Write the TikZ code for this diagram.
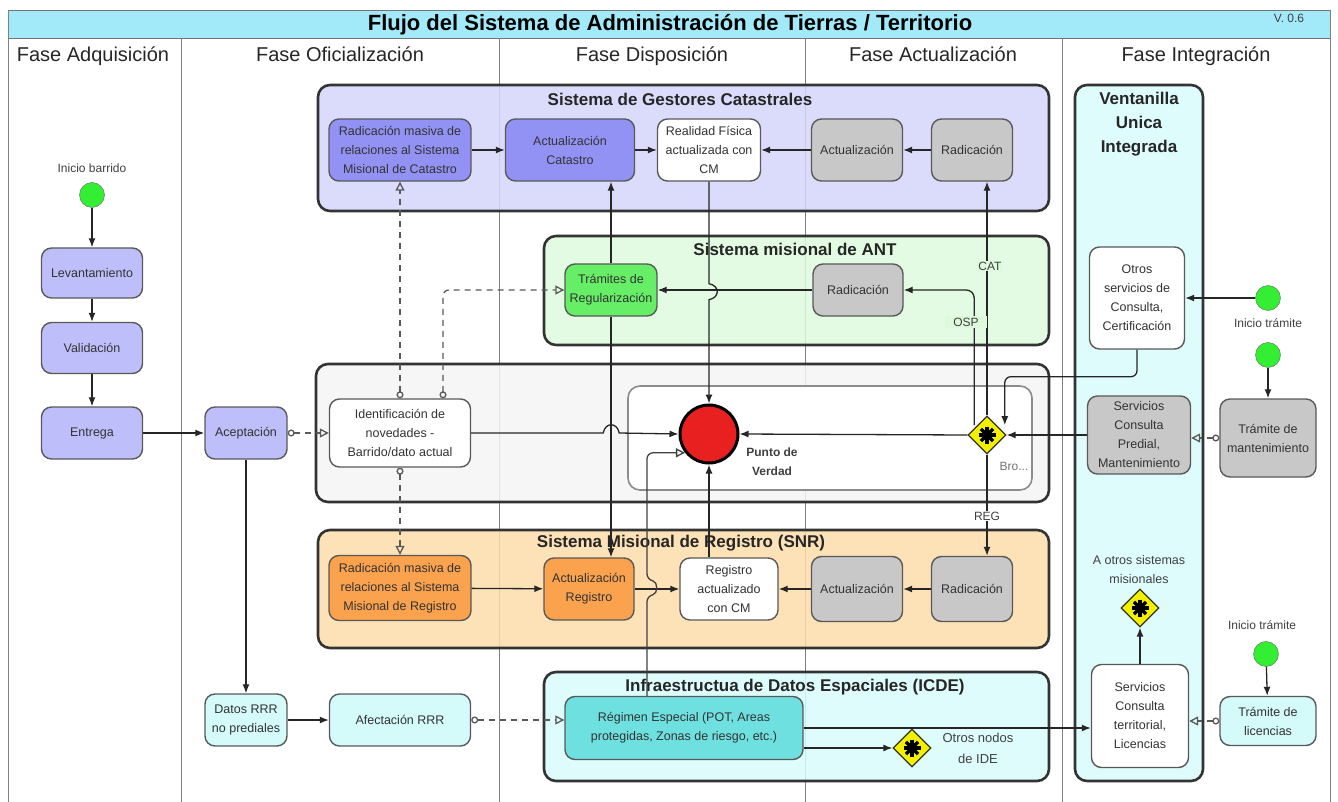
\documentclass[tikz,border=0pt]{standalone}
\usepackage{fontspec}
\setmainfont{Liberation Sans}
\usetikzlibrary{positioning,shapes.geometric,arrows.meta}

\definecolor{titlebar}{HTML}{A2E9F9}
\definecolor{gestfill}{HTML}{D5D5FC}
\definecolor{lavlight}{HTML}{BEBEFB}
\definecolor{lavdark}{HTML}{9292F4}
\definecolor{antfill}{HTML}{DDFADD}
\definecolor{tramfill}{HTML}{66EE66}
\definecolor{taskgray}{HTML}{C8C8C8}
\definecolor{corefill}{HTML}{F3F4F3}
\definecolor{snrfill}{HTML}{FDDCAA}
\definecolor{orangetask}{HTML}{FBA24F}
\definecolor{icdefill}{HTML}{D8FCFC}
\definecolor{tealtask}{HTML}{6FE0E0}
\definecolor{cyanlight}{HTML}{D4FAFA}
\definecolor{pdvred}{HTML}{E82020}
\definecolor{startgreen}{HTML}{33EE33}
\definecolor{gwyellow}{HTML}{F2F000}

\begin{document}
\begin{tikzpicture}[x=1pt,y=-1pt,
     % define styles
     task/.style={
         draw=black!65, line width=1.4pt, rounded corners=10pt,
         align=center, inner sep=2pt, text=black!80,
         font=\fontsize{12.5}{19}\selectfont
     },
     pool/.style={
         draw=black!80, line width=2.6pt, rounded corners=12pt,
         fill opacity=0.85
     },
     pooltitle/.style={
         font=\bfseries\fontsize{17}{24}\selectfont,
         text=black!85, align=center
     },
     lane/.style={draw=black!50, line width=1pt},
     phase/.style={
         font=\fontsize{20}{22}\selectfont, text=black!85,
         text height=15pt, text depth=4pt
     },
     start/.style={
         circle, draw=black!60, fill=startgreen,
         minimum size=25pt, inner sep=0pt
     },
     gate/.style={
         diamond, draw=black!80, fill=gwyellow, line width=1.2pt,
         minimum size=38pt, inner sep=0pt,
         path picture={
             \foreach \a in {0,45,90,135}
                 \draw[black, line width=3.5pt]
                     ([shift={(\a:8.5pt)}]path picture bounding box.center) --
                     ([shift={(\a+180:8.5pt)}]path picture bounding box.center);
             \fill[black] (path picture bounding box.center) circle[radius=5.5pt];
         }
     },
     note/.style={
         font=\fontsize{12}{19}\selectfont,
         align=center, text=black!75
     },
     flow/.style={
         draw=black!85, line width=1.3pt,
         -{Latex[length=9pt,width=7pt]}
     },
     msg/.style={
         draw=black!65, line width=1.3pt, dash pattern=on 6pt off 5pt,
         {Circle[open,length=7pt,width=7pt]}-{Triangle[open,length=9pt,width=9pt]}
     },
     hop/.style={
         draw=black!75, line width=1.3pt,
         -{Triangle[open,length=9pt,width=9pt]}
     }
]
\useasboundingbox (0,0) rectangle (1338,802);

% title bar and phases
\draw[draw=black!55, fill=titlebar] (8,10) rectangle (1330,38);
\node[font=\bfseries\fontsize{22}{24}\selectfont] (title) at (670,25)
    {Flujo del Sistema de Administración de Tierras / Territorio};
\node[font=\fontsize{12}{13}\selectfont, text=black!75] (version) at (1289,18) {V. 0.6};
\draw[lane] (8,10) -- (8,802);
\draw[lane] (1330,10) -- (1330,802);
\draw[lane] (181,38) -- (181,802);
\draw[lane] (499,38) -- (499,802);
\draw[lane] (805,38) -- (805,802);
\draw[lane] (1062,38) -- (1062,802);
\node[phase] (hAdq) at (93,56) {Fase Adquisición};
\node[phase] (hOfi) at (340,56) {Fase Oficialización};
\node[phase] (hDis) at (652,56) {Fase Disposición};
\node[phase] (hAct) at (933,56) {Fase Actualización};
\node[phase] (hInt) at (1196,56) {Fase Integración};

% pools
\draw[pool, fill=gestfill] (318,85) rectangle (1049,211);
\node[pooltitle] (tGest) at (680,99) {Sistema de Gestores Catastrales};
\draw[pool, fill=antfill] (544,236) rectangle (1049,345);
\node[pooltitle] (tAnt) at (795,249) {Sistema misional de ANT};
\draw[pool, fill=corefill] (316,364) rectangle (1049,502);
\draw[draw=black!45, line width=1.6pt, fill=white, rounded corners=12pt] (628,386) rectangle (1032,490);
\draw[pool, fill=snrfill] (318,530) rectangle (1049,648);
\node[pooltitle] (tSnr) at (681,543) {Sistema Misional de Registro (SNR)};
\draw[pool, fill=icdefill] (544,672) rectangle (1049,781);
\node[pooltitle] (tIcde) at (795,687) {Infraestructua de Datos Espaciales (ICDE)};
\draw[pool, fill=icdefill] (1075,85) rectangle (1203,781);
\node[pooltitle] (tVu) at (1139,124) {Ventanilla\\Unica\\Integrada};

% Fase Adquisicion
\node[note] (lblB) at (92,168) {Inicio barrido};
\node[start] (startB) at (92,195) {};
\node[task, fill=lavlight, minimum width=101pt, minimum height=50pt] (lev) at (92,273) {Levantamiento};
\node[task, fill=lavlight, minimum width=101pt, minimum height=51pt] (val) at (92,348) {Validación};
\node[task, fill=lavlight, minimum width=101pt, minimum height=52pt] (ent) at (92,433) {Entrega};

% Fase Oficializacion
\node[task, fill=lavlight, minimum width=82pt, minimum height=52pt] (acep) at (246,433) {Aceptación};
\node[task, fill=cyanlight, minimum width=82pt, minimum height=52pt] (datos) at (246,720) {Datos RRR\\no prediales};
\node[task, fill=cyanlight, minimum width=141pt, minimum height=52pt] (afec) at (400,720) {Afectación RRR};
\node[task, fill=white, minimum width=141pt, minimum height=68pt] (ident) at (400,433) {Identificación de\\novedades -\\Barrido/dato actual};
\node[task, fill=lavdark, minimum width=142pt, minimum height=62pt] (radC) at (400,150) {Radicación masiva de\\relaciones al Sistema\\Misional de Catastro};
\node[task, fill=orangetask, minimum width=142pt, minimum height=65pt] (radR) at (400,588) {Radicación masiva de\\relaciones al Sistema\\Misional de Registro};

% Fase Disposicion
\node[task, fill=lavdark, minimum width=129pt, minimum height=62pt] (actC) at (570,150) {Actualización\\Catastro};
\node[task, fill=white, minimum width=103pt, minimum height=62pt] (realC) at (709,150) {Realidad Física\\actualizada con\\CM};
\node[task, fill=tramfill, minimum width=92pt, minimum height=52pt] (tram) at (611,290) {Trámites de\\Regularización};
\node[circle, draw=black, line width=3pt, fill=pdvred, minimum size=58pt, inner sep=0pt] (pdv) at (709,434) {};
\node[note, font=\bfseries\fontsize{12}{19}\selectfont] (lblPdv) at (772,462) {Punto de\\Verdad};
\node[task, fill=orangetask, minimum width=90pt, minimum height=62pt] (actR) at (589,589) {Actualización\\Registro};
\node[task, fill=white, minimum width=98pt, minimum height=62pt] (regR) at (729,589) {Registro\\actualizado\\con CM};
\node[task, fill=tealtask, minimum width=238pt, minimum height=63pt] (reg) at (684,728) {Régimen Especial (POT, Areas\\protegidas, Zonas de riesgo, etc.)};

% Fase Actualizacion
\node[task, fill=taskgray, minimum width=91pt, minimum height=62pt] (actgC) at (857,150) {Actualización};
\node[task, fill=taskgray, minimum width=81pt, minimum height=62pt] (radgC) at (972,150) {Radicación};
\node[task, fill=taskgray, minimum width=90pt, minimum height=52pt] (radA) at (858,290) {Radicación};
\node[gate] (gw) at (987,435) {};
\node[note, text=black!55] (lblBro) at (1014,466) {Bro...};
\node[task, fill=taskgray, minimum width=91pt, minimum height=65pt] (actgR) at (857,589) {Actualización};
\node[task, fill=taskgray, minimum width=81pt, minimum height=65pt] (radgR) at (972,589) {Radicación};
\node[gate] (gwIde) at (912,748) {};
\node[note, font=\fontsize{13}{21}\selectfont] (lblIde) at (978,748) {Otros nodos\\de IDE};

% Fase Integracion
\node[task, fill=white, minimum width=95pt, minimum height=102pt] (otros) at (1137,298) {Otros\\servicios de\\Consulta,\\Certificación};
\node[task, fill=taskgray, minimum width=103pt, minimum height=78pt] (predial) at (1139,435) {Servicios\\Consulta\\Predial,\\Mantenimiento};
\node[note, font=\fontsize{12.5}{19}\selectfont] (lblVu) at (1139,570) {A otros sistemas\\misionales};
\node[gate] (gwVu) at (1140,608) {};
\node[task, fill=white, minimum width=97pt, minimum height=103pt] (terr) at (1140,716) {Servicios\\Consulta\\territorial,\\Licencias};
\node[start] (startM1) at (1268,298) {};
\node[note] (lblM) at (1268,323) {Inicio trámite};
\node[start] (startM2) at (1268,355) {};
\node[task, fill=taskgray, minimum width=96pt, minimum height=78pt] (mant) at (1268,438) {Trámite de\\mantenimiento};
\node[note] (lblL) at (1262,625) {Inicio trámite};
\node[start] (startL) at (1266,654) {};
\node[task, fill=cyanlight, minimum width=96pt, minimum height=49pt] (lic) at (1268,721) {Trámite de\\licencias};

% connectors
\draw[flow] (startB) -- (lev);
\draw[flow] (lev) -- (val);
\draw[flow] (val) -- (ent);
\draw[flow] (ent) -- (acep);
\draw[msg] (acep) -- (ident);
\draw[flow] (acep) -- (datos);
\draw[flow] (datos) -- (afec);
\draw[msg] (afec.east) -- (afec.east -| reg.west);
\draw[msg] (ident.north) -- (radC.south);
\draw[msg, rounded corners=6pt] ([xshift=43pt]ident.north) |- (tram.west);
\draw[msg] (ident.south) -- (radR.north);
\draw[flow] (ident.east) -- ++(132,0) .. controls +(2,-11) and +(-2,-11) .. ++(16,0) -- (pdv.west);

\draw[flow] (radC) -- (actC);
\draw[flow] (actC) -- (realC);
\draw[flow] (actgC) -- (realC);
\draw[flow] (radgC) -- (actgC);
\draw[flow] (realC.south) -- ++(0,102) .. controls +(11,2) and +(11,-2) .. ++(0,16) -- (pdv.north);
\draw[flow] (tram.north) -- (tram.north |- actC.south);
\draw[flow] (tram.south) -- (tram.south |- actR.north);
\draw[flow] (radA) -- (tram);

\draw[flow] (gw.north) -- (gw.north |- radgC.south);
\node[note, fill=antfill, inner sep=1pt] (lblCat) at (990,266) {CAT};
\draw[flow, rounded corners=8pt] ([xshift=-3pt]gw.north west) |- (radA.east);
\node[note, fill=antfill, inner xsep=8pt, inner ysep=2pt] (lblOsp) at (966,322) {OSP};
\draw[flow] (gw.south) -- (gw.south |- radgR.north);
\node[note, fill=white, inner sep=1pt] (lblReg) at (987,516) {REG};
\draw[flow] (gw.west) -- (pdv.east);
\draw[flow] (predial.west) -- (gw.east);
\draw[flow, rounded corners=6pt] (otros.south) -- ++(0,27) -| ([xshift=8pt]gw.north east);
\draw[flow] (startM1) -- (otros.east);
\draw[flow] (startM2) -- (mant);
\draw[msg] (mant.west) -- (mant.west -| predial.east);

\draw[flow] (radR) -- (actR);
\draw[flow] (actR) -- (regR);
\draw[flow] (actgR) -- (regR);
\draw[flow] (radgR) -- (actgR);
\draw[flow] (pdv.south |- regR.north) -- (pdv.south);
\draw[hop, rounded corners=6pt] ([xshift=-37pt]reg.north) -- ++(0,-100) .. controls +(11,-2) and +(11,2) .. ++(0,-16) |- (pdv.218);

\draw[flow] (reg.east) -- (reg.east -| terr.west);
\draw[flow] (reg.east |- gwIde.west) -- (gwIde.west);
\draw[flow] (terr.north) -- (gwVu.south);
\draw[flow] (startL) -- (lic);
\draw[msg] (lic.west) -- (lic.west -| terr.east);
\end{tikzpicture}
\end{document}
